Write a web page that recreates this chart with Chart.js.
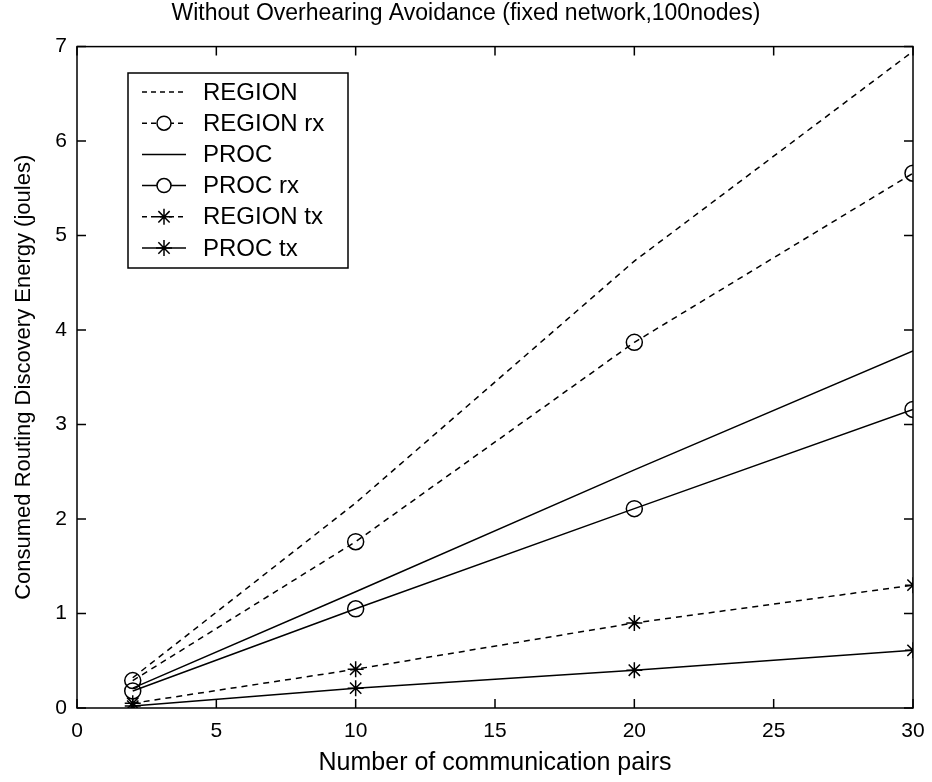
<!DOCTYPE html>
<html>
<head>
<meta charset="utf-8">
<script src="https://cdn.jsdelivr.net/npm/chart.js@4/dist/chart.umd.min.js"></script>
<style>
  html, body { margin: 0; padding: 0; background: #fff; }
  #wrap { width: 932px; height: 782px; }
</style>
</head>
<body>
<div id="wrap"><canvas id="myChart" width="932" height="782"></canvas></div>
<script>
// data
var pairs = [2, 10, 20, 30];
var regionTotal = [0.32, 2.17, 4.73, 6.95];
var regionRx = [0.29, 1.76, 3.87, 5.66];
var procTotal = [0.21, 1.23, 2.52, 3.78];
var procRx = [0.18, 1.05, 2.11, 3.16];
var regionTx = [0.05, 0.41, 0.90, 1.30];
var procTx = [0.02, 0.21, 0.40, 0.61];

var xTicks = [0, 5, 10, 15, 20, 25, 30];
var yTicks = [0, 1, 2, 3, 4, 5, 6, 7];

var FONT = "'Liberation Sans', Arial, sans-serif";
var dash = [6, 5];

function pts(vals) {
  var out = [];
  for (var i = 0; i < pairs.length; i++) out.push({x: pairs[i], y: vals[i]});
  return out;
}

function series(label, vals, dashed, marker) {
  return {
    label: label,
    data: pts(vals),
    borderColor: '#000',
    borderWidth: 1.5,
    borderDash: dashed ? dash : [],
    backgroundColor: '#fff',
    pointStyle: marker || false,
    pointRadius: marker ? 8 : 0,
    pointBorderColor: '#000',
    pointBackgroundColor: marker === 'circle' ? 'rgba(255,255,255,0)' : '#000',
    pointBorderWidth: 1.5,
    tension: 0,
    fill: false
  };
}

// inward ticks on all four sides, plot box, and the legend inside the axes
var matlabBox = {
  id: 'matlabBox',
  afterDatasetsDraw: function(chart) {
    var ctx = chart.ctx;
    var a = chart.chartArea;
    var xs = chart.scales.x, ys = chart.scales.y;
    ctx.save();
    ctx.strokeStyle = '#000';
    ctx.lineWidth = 1.5;
    ctx.setLineDash([]);
    ctx.strokeRect(a.left, a.top, a.right - a.left, a.bottom - a.top);
    var tl = 9;
    ctx.beginPath();
    xTicks.forEach(function(v) {
      var px = xs.getPixelForValue(v);
      ctx.moveTo(px, a.bottom); ctx.lineTo(px, a.bottom - tl);
      ctx.moveTo(px, a.top); ctx.lineTo(px, a.top + tl);
    });
    yTicks.forEach(function(v) {
      var py = ys.getPixelForValue(v);
      ctx.moveTo(a.left, py); ctx.lineTo(a.left + tl, py);
      ctx.moveTo(a.right, py); ctx.lineTo(a.right - tl, py);
    });
    ctx.stroke();

    // legend
    var bx = 128, by = 73, bw = 220, bh = 195;
    ctx.fillStyle = '#fff';
    ctx.fillRect(bx, by, bw, bh);
    ctx.strokeRect(bx, by, bw, bh);
    ctx.font = '24px ' + FONT;
    ctx.textBaseline = 'middle';
    ctx.textAlign = 'left';
    chart.data.datasets.forEach(function(ds, i) {
      var ry = 92 + i * 31.2;
      ctx.strokeStyle = '#000';
      ctx.lineWidth = 1.5;
      ctx.setLineDash(ds.borderDash.length ? [5, 4] : []);
      ctx.beginPath();
      ctx.moveTo(142, ry); ctx.lineTo(186, ry);
      ctx.stroke();
      ctx.setLineDash([]);
      if (ds.pointStyle) {
        ctx.beginPath();
        if (ds.pointStyle === 'circle') {
          ctx.fillStyle = '#fff';
          ctx.arc(164, ry, 7, 0, Math.PI * 2);
          ctx.fill();
          ctx.stroke();
        } else {
          var r = 8, d = r * 0.7071;
          ctx.moveTo(164 - r, ry); ctx.lineTo(164 + r, ry);
          ctx.moveTo(164, ry - r); ctx.lineTo(164, ry + r);
          ctx.moveTo(164 - d, ry - d); ctx.lineTo(164 + d, ry + d);
          ctx.moveTo(164 - d, ry + d); ctx.lineTo(164 + d, ry - d);
          ctx.stroke();
        }
      }
      ctx.fillStyle = '#000';
      ctx.fillText(ds.label, 203, ry + 1);
    });
    ctx.restore();
  }
};

var ctx = document.getElementById('myChart').getContext('2d');
var myLineChart = new Chart(ctx, {
  type: 'line',
  data: {
    datasets: [
      series('REGION', regionTotal, true, null),
      series('REGION rx', regionRx, true, 'circle'),
      series('PROC', procTotal, false, null),
      series('PROC rx', procRx, false, 'circle'),
      series('REGION tx', regionTx, true, 'star'),
      series('PROC tx', procTx, false, 'star')
    ]
  },
  options: {
    responsive: false,
    animation: false,
    layout: { padding: 0 },
    plugins: {
      legend: { display: false },
      tooltip: { enabled: false },
      title: {
        display: true,
        text: 'Without Overhearing Avoidance (fixed network,100nodes)',
        color: '#000',
        font: { family: FONT, size: 23, weight: 'normal' },
        padding: { top: 0, bottom: 19 }
      }
    },
    scales: {
      x: {
        type: 'linear',
        min: 0, max: 30,
        afterBuildTicks: function(s) { s.ticks = xTicks.map(function(v) { return {value: v}; }); },
        afterFit: function(s) { s.height = 74; s.paddingLeft = 0; s.paddingRight = 19; },
        grid: { display: false, drawTicks: false },
        border: { display: false },
        ticks: { color: '#000', padding: 11, font: { family: FONT, size: 21 } },
        title: {
          display: true,
          text: 'Number of communication pairs',
          color: '#000',
          font: { family: FONT, size: 25 },
          padding: { top: 0, bottom: 4 }
        }
      },
      y: {
        min: 0, max: 7,
        afterBuildTicks: function(s) { s.ticks = yTicks.map(function(v) { return {value: v}; }); },
        afterFit: function(s) { s.width = 77; },
        grid: { display: false, drawTicks: false },
        border: { display: false },
        ticks: { color: '#000', padding: 10, font: { family: FONT, size: 21 } },
        title: {
          display: true,
          text: 'Consumed Routing Discovery Energy (joules)',
          color: '#000',
          font: { family: FONT, size: 22 },
          padding: { top: 11, bottom: 0 }
        }
      }
    }
  },
  plugins: [matlabBox]
});
</script>
</body>
</html>
